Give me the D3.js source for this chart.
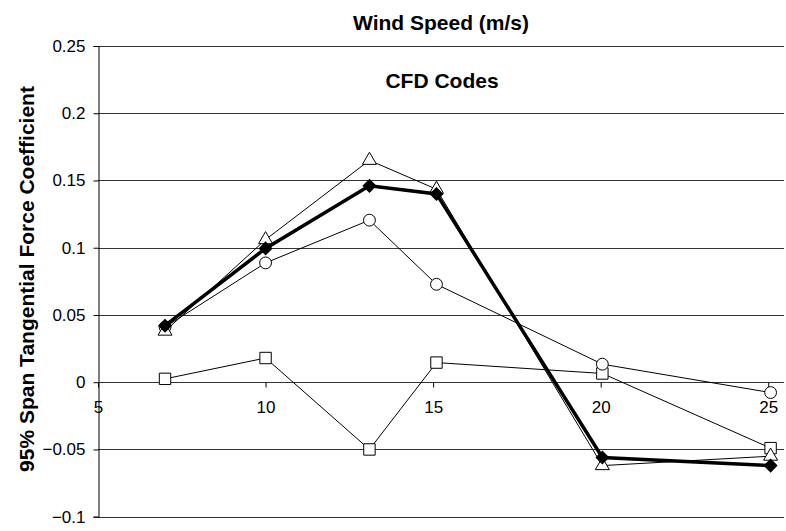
<!DOCTYPE html>
<html><head><meta charset="utf-8">
<script src="https://cdn.jsdelivr.net/npm/d3@7"></script>
<style>body{margin:0;background:#fff}svg{display:block;font-family:"Liberation Sans",Arial,sans-serif}</style>
</head><body>
<svg id="c" width="786" height="531"></svg>
<script>
const windSpeeds = [7, 10, 13.1, 15.1, 20.05, 25.07];
const seriesDiamond = [0.042, 0.0995, 0.146, 0.140, -0.056, -0.062];
const seriesTriangle = [0.038, 0.106, 0.165, 0.1435, -0.062, -0.055];
const seriesCircle = [0.041, 0.0887, 0.1205, 0.0728, 0.0134, -0.0077];
const seriesSquare = [0.0025, 0.018, -0.05, 0.0146, 0.0065, -0.049];
const yTicks = [0.25, 0.2, 0.15, 0.1, 0.05, 0, -0.05, -0.1];
const xTicks = [5, 10, 15, 20, 25];

const svg = d3.select("#c");
const x = d3.scaleLinear().domain([5, 25.47]).range([98, 784]);
const y = d3.scaleLinear().domain([-0.1, 0.25]).range([516.7, 46]);

// gridlines
svg.append("g").selectAll("line").data(yTicks).join("line")
  .attr("x1", x(5)).attr("x2", x(25.47))
  .attr("y1", d => Math.round(y(d)) + 0.5).attr("y2", d => Math.round(y(d)) + 0.5)
  .attr("stroke", "#333").attr("stroke-width", 1);

// y axis
const yAxis = d3.axisLeft(y).tickValues(yTicks).tickSize(5).tickPadding(8)
  .tickFormat(d => d3.format("")(+d.toFixed(2)));
const gy = svg.append("g").attr("transform", `translate(${Math.round(x(5)) + 0.5},0)`).call(yAxis);
gy.select(".domain").attr("stroke", "#000");
gy.selectAll(".tick line").attr("stroke", "#000");
gy.selectAll(".tick text").attr("font-size", 17).attr("fill", "#000").attr("font-family", "Liberation Sans, Arial, sans-serif");

// x axis at y=0
const xAxis = d3.axisBottom(x).tickValues(xTicks).tickSize(5).tickPadding(13).tickFormat(d3.format("d"));
const gx = svg.append("g").attr("transform", `translate(0,${Math.round(y(0)) + 0.5})`).call(xAxis);
gx.select(".domain").remove();
gx.selectAll(".tick line").attr("stroke", "#000");
gx.selectAll(".tick text").attr("font-size", 17).attr("fill", "#000").attr("font-family", "Liberation Sans, Arial, sans-serif");

const line = d3.line().x(d => x(d[0])).y(d => y(d[1]));
const zip = vals => windSpeeds.map((w, i) => [w, vals[i]]);

function drawSeries(vals, width) {
  svg.append("path").datum(zip(vals)).attr("d", line)
    .attr("fill", "none").attr("stroke", "#000").attr("stroke-width", width)
    .attr("stroke-linejoin", "miter");
}
drawSeries(seriesSquare, 1);
drawSeries(seriesCircle, 1);
drawSeries(seriesTriangle, 1);

function drawMarkers(vals, type, size, fill, rot) {
  svg.append("g").selectAll("path").data(zip(vals)).join("path")
    .attr("transform", d => `translate(${x(d[0])},${y(d[1])}) rotate(${rot || 0})`)
    .attr("d", d3.symbol().type(type).size(size))
    .attr("fill", fill).attr("stroke", "#000").attr("stroke-width", 1);
}
drawMarkers(seriesSquare, d3.symbolSquare, 130, "#fff");
drawMarkers(seriesCircle, d3.symbolCircle, 110, "#fff");
drawMarkers(seriesTriangle, d3.symbolTriangle, 85, "#fff");

drawSeries(seriesDiamond, 3.5);
drawMarkers(seriesDiamond, d3.symbolSquare, 80, "#000", 45);

// titles
svg.append("text").attr("x", 441).attr("y", 30).attr("text-anchor", "middle")
  .attr("font-size", 21).attr("font-weight", "bold").text("Wind Speed (m/s)");
svg.append("text").attr("x", 442).attr("y", 88).attr("text-anchor", "middle")
  .attr("font-size", 21).attr("font-weight", "bold").text("CFD Codes");
svg.append("text").attr("transform", "translate(26,279) rotate(-90)")
  .attr("text-anchor", "middle").attr("dominant-baseline", "central")
  .attr("font-size", 21).attr("font-weight", "bold").text("95% Span Tangential Force Coefficient");
</script>
</body></html>
